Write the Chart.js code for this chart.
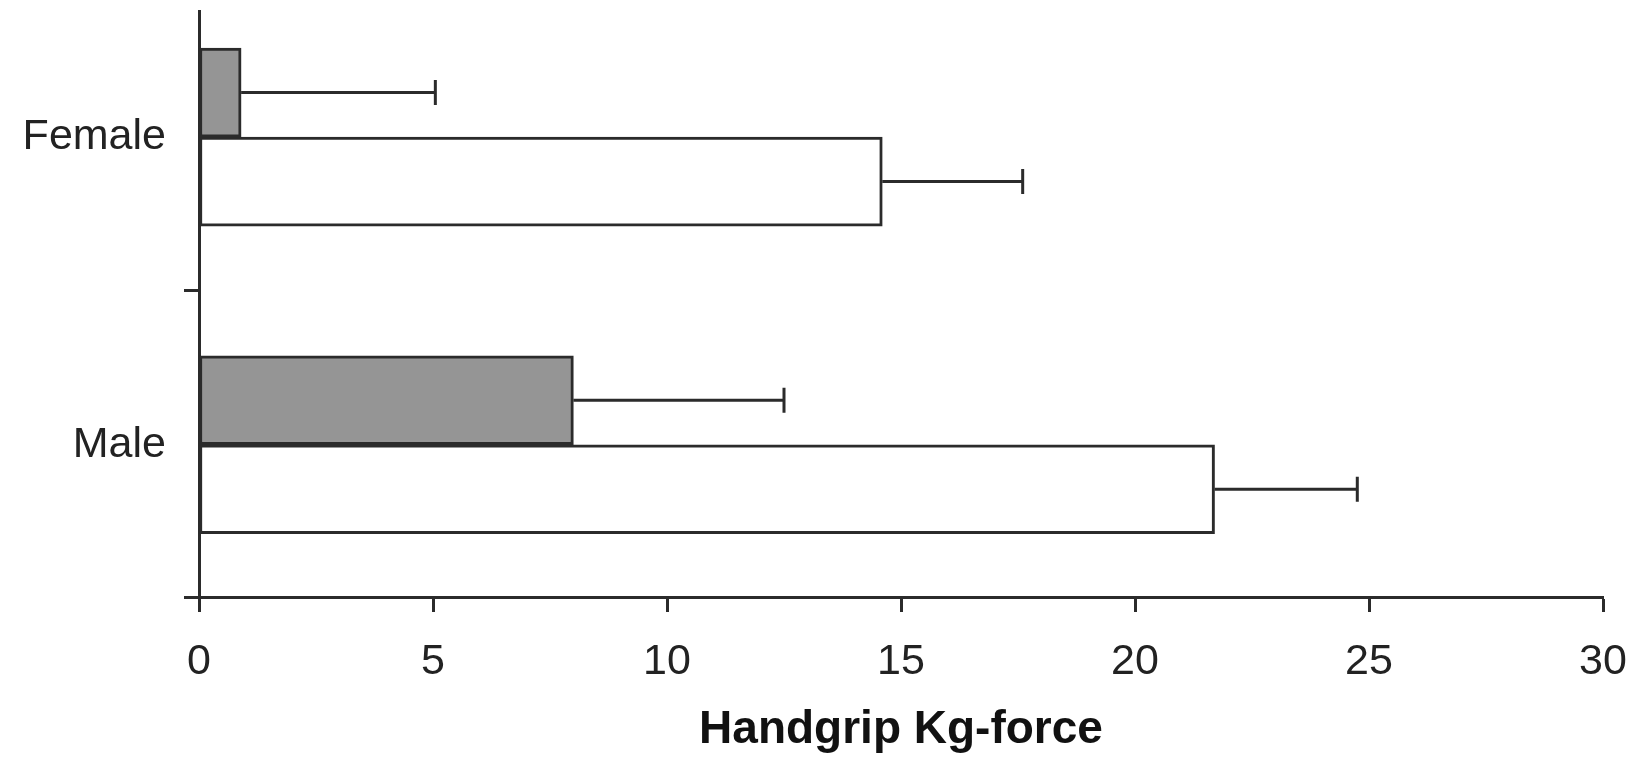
<!DOCTYPE html>
<html>
<head>
<meta charset="utf-8">
<script src="https://cdn.jsdelivr.net/npm/chart.js@4/dist/chart.umd.min.js"></script>
<style>
  html, body { margin: 0; padding: 0; background: #fff; }
  #wrap { width: 1633px; height: 758px; position: relative; }
</style>
</head>
<body>
<div id="wrap"><canvas id="chart"></canvas></div>
<script>
const categories = ["Female", "Male"];
const grayValues = [0.9, 8.0];
const grayErrors = [4.15, 4.5];
const whiteValues = [14.6, 21.7];
const whiteErrors = [3.0, 3.05];
const xTicks = [0, 5, 10, 15, 20, 25, 30];

const axisColor = "#2b2b2b";
const fontFamily = "'Liberation Sans', Arial, sans-serif";

function toPoints(values) {
  return values.map((v, i) => ({ x: v, y: i }));
}

const errorBars = {
  id: "errorBars",
  afterDatasetsDraw(chart) {
    const ctx = chart.ctx;
    const xScale = chart.scales.x;
    const errs = [grayErrors, whiteErrors];
    ctx.save();
    ctx.strokeStyle = axisColor;
    ctx.lineWidth = 3;
    chart.data.datasets.forEach((ds, d) => {
      const meta = chart.getDatasetMeta(d);
      meta.data.forEach((bar, i) => {
        const x0 = bar.x;
        const x1 = xScale.getPixelForValue(ds.data[i].x + errs[d][i]);
        const y = bar.y;
        ctx.beginPath();
        ctx.moveTo(x0, y);
        ctx.lineTo(x1, y);
        ctx.moveTo(x1, y - 12.5);
        ctx.lineTo(x1, y + 12.5);
        ctx.stroke();
      });
    });
    ctx.restore();
  }
};

new Chart(document.getElementById("chart"), {
  type: "bar",
  data: {
    datasets: [
      {
        label: "Gray",
        data: toPoints(grayValues),
        backgroundColor: "#959595",
        borderColor: axisColor,
        borderWidth: 3,
        borderSkipped: false,
        barThickness: 89
      },
      {
        label: "White",
        data: toPoints(whiteValues),
        backgroundColor: "#ffffff",
        borderColor: axisColor,
        borderWidth: 3,
        borderSkipped: false,
        barThickness: 89
      }
    ]
  },
  options: {
    indexAxis: "y",
    responsive: true,
    maintainAspectRatio: false,
    animation: false,
    layout: { padding: { top: 11, right: 30, left: 0, bottom: 0 } },
    plugins: {
      legend: { display: false },
      tooltip: { enabled: false }
    },
    scales: {
      x: {
        type: "linear",
        min: 0,
        max: 30,
        afterBuildTicks: scale => { scale.ticks = xTicks.map(v => ({ value: v })); },
        afterFit: scale => {
          scale.height = 161;
          scale.paddingLeft = 0;
          scale.paddingRight = 0;
        },
        grid: {
          drawOnChartArea: false,
          tickLength: 15,
          tickWidth: 3,
          tickColor: axisColor
        },
        border: { display: true, color: axisColor, width: 3 },
        ticks: {
          color: "#222",
          padding: 24,
          maxRotation: 0,
          font: { family: fontFamily, size: 43 }
        },
        title: {
          display: true,
          text: "Handgrip Kg-force",
          color: "#111",
          padding: { top: 0, bottom: 0 },
          font: { family: fontFamily, size: 46, weight: "bold" }
        }
      },
      y: {
        type: "linear",
        reverse: true,
        offset: false,
        min: -0.41,
        max: 1.495,
        afterBuildTicks: scale => {
          scale.ticks = [0, 0.5, 1, 1.495].map(v => ({ value: v }));
        },
        afterFit: scale => {
          scale.width = 199;
          scale.paddingTop = 0;
          scale.paddingBottom = 0;
        },
        grid: {
          offset: false,
          drawOnChartArea: false,
          tickLength: 15,
          tickWidth: 3,
          tickColor: c => (c.tick && c.tick.value % 1 !== 0) ? axisColor : "rgba(0,0,0,0)"
        },
        border: { display: true, color: axisColor, width: 3 },
        ticks: {
          color: "#222",
          padding: 18,
          font: { family: fontFamily, size: 43 },
          callback: v => (Number.isInteger(v) ? categories[v] : "")
        }
      }
    }
  },
  plugins: [errorBars]
});
</script>
</body>
</html>
